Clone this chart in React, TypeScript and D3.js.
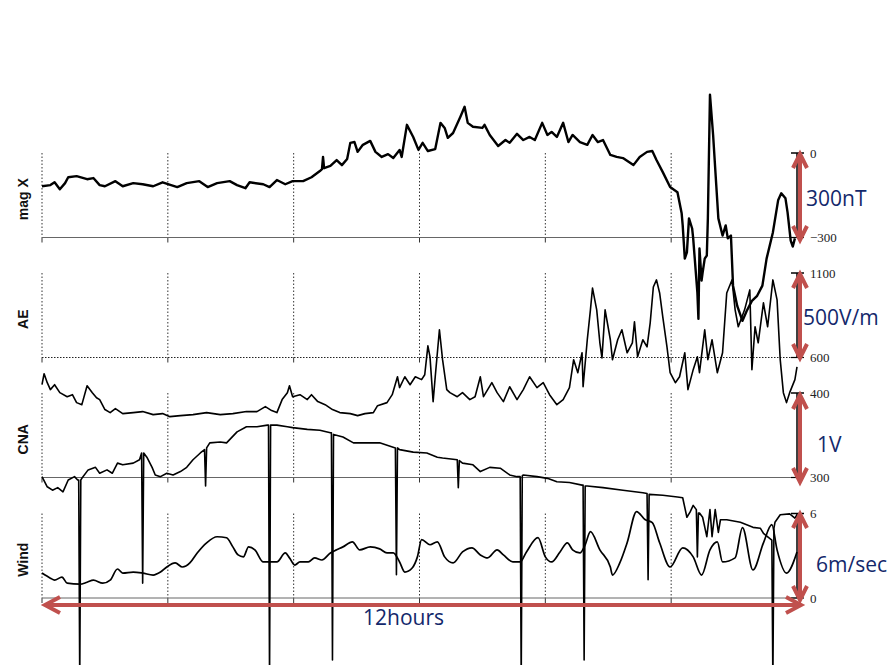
import React from 'react';
import * as d3 from 'd3';

// ---------- labels ----------
const panelNames = ['mag X', 'AE', 'CNA', 'Wind'];
const panelDomains: [number, number][] = [[-300, 0], [600, 1100], [300, 400], [0, 6]];
const tickLabels: [string, string][] = [['0', '\u2212300'], ['1100', '600'], ['400', '300'], ['6', '0']];
const unitLabels = ['300nT', '500V/m', '1V', '6m/sec'];
const gridHours = [0, 2, 4, 6, 8, 10];
const spanLabel = '12hours';

// ---------- data: [minutes from start, value] ----------
const magX: [number, number][] = [
  [0, -118], [8, -114], [12, -104], [17, -129], [22, -107], [25, -86], [33, -82], [43, -93], [49, -89],
  [55, -114], [60, -118], [70, -100], [77, -118], [87, -107], [96, -111], [106, -118], [115, -104],
  [129, -121], [138, -107], [150, -100], [158, -121], [167, -107], [179, -100], [186, -114], [194, -125],
  [198, -104], [211, -111], [217, -121], [224, -96], [232, -111], [239, -100], [249, -100], [257, -86],
  [265, -64], [267, -57], [268, -14], [269, -54], [275, -46], [281, -25], [286, -43], [291, -21],
  [294, 36], [298, 39], [301, 4], [306, 29], [313, 43], [318, 4], [324, -14], [330, -4], [335, -18],
  [341, 11], [343, -14], [348, 100], [354, 57], [359, 11], [363, 36], [368, 7], [375, 14], [380, 107],
  [384, 89], [387, 54], [392, 71], [399, 129], [403, 164], [406, 107], [411, 93], [420, 89], [422, 100],
  [427, 64], [435, 25], [442, 46], [446, 36], [453, 68], [459, 46], [465, 57], [470, 46], [477, 107],
  [482, 64], [486, 75], [491, 57], [497, 107], [502, 39], [506, 64], [513, 39], [520, 29], [525, 64],
  [530, 39], [535, 46], [542, -7], [548, -14], [554, -18], [564, -43], [570, -14], [577, 4], [582, 7],
  [586, -25], [592, -68], [599, -121], [606, -139], [610, -214], [611, -257], [613, -375], [615, -353],
  [617, -232], [620, -268], [621, -303], [625, -496], [626, -589], [627, -339], [629, -453], [630, -425],
  [632, -375], [634, -364], [635, -232], [637, 207], [640, 64], [643, -114], [645, -232], [649, -293],
  [652, -257], [654, -303], [657, -293], [659, -471], [663, -543], [668, -596], [672, -561], [677, -525],
  [682, -507], [687, -471], [691, -375], [697, -282], [702, -168], [705, -143], [709, -161], [711, -211],
  [714, -311], [716, -332], [718, -303],
];

const ae: [number, number][] = [
  [0, 439], [2, 504], [5, 451], [8, 410], [12, 439], [17, 392], [24, 368], [29, 380], [33, 333], [38, 321],
  [43, 433], [48, 392], [52, 362], [55, 351], [60, 292], [65, 274], [70, 298], [77, 268], [87, 274],
  [96, 280], [106, 262], [115, 268], [122, 250], [132, 256], [144, 262], [157, 274], [170, 262],
  [182, 268], [195, 280], [205, 280], [213, 309], [219, 286], [224, 274], [229, 351], [234, 392],
  [236, 433], [239, 368], [246, 380], [253, 351], [257, 380], [263, 339], [270, 321], [277, 292],
  [284, 274], [294, 268], [301, 256], [308, 268], [316, 274], [320, 315], [329, 333], [334, 380],
  [339, 486], [341, 422], [346, 486], [351, 439], [356, 486], [362, 469], [365, 498], [368, 669],
  [370, 604], [373, 339], [375, 486], [379, 764], [382, 587], [386, 410], [389, 392], [396, 368],
  [401, 392], [408, 351], [413, 368], [418, 486], [421, 368], [429, 451], [434, 392], [440, 339],
  [446, 427], [453, 351], [459, 410], [465, 486], [472, 422], [478, 451], [484, 380], [491, 321],
  [497, 351], [503, 422], [507, 587], [511, 510], [515, 628], [516, 427], [520, 705], [523, 882],
  [525, 1011], [529, 882], [532, 687], [534, 598], [537, 882], [542, 705], [544, 587], [549, 705],
  [553, 764], [558, 628], [563, 687], [565, 811], [568, 604], [573, 705], [577, 663], [580, 805],
  [583, 1017], [586, 1059], [589, 982], [592, 840], [596, 663], [599, 510], [604, 451], [608, 486],
  [613, 628], [616, 410], [621, 528], [625, 604], [627, 510], [632, 764], [635, 587], [639, 705],
  [644, 510], [649, 628], [653, 982], [658, 1059], [661, 882], [664, 782], [670, 882], [675, 1000],
  [677, 528], [680, 782], [683, 687], [688, 923], [692, 782], [697, 1059], [701, 941], [704, 587],
  [707, 392], [710, 333], [713, 392], [718, 469], [720, 545],
];

const cna: [number, number][] = [
  [0, 301], [5, 289], [10, 285], [15, 288], [20, 283], [25, 297], [31, 301], [34, 297], [35, 297],
  [36, 60], [37, 297], [38, 299], [44, 309], [51, 312], [55, 305], [62, 309], [67, 305], [72, 317],
  [77, 315], [87, 317], [93, 321], [95, 329], [96, 175], [97, 329], [100, 324], [105, 312], [108, 303],
  [113, 301], [119, 305], [125, 303], [132, 307], [138, 312], [144, 321], [151, 329], [155, 333],
  [156, 290], [157, 335], [160, 341], [170, 342], [176, 341], [186, 354], [195, 360], [205, 360],
  [215, 362], [216, 362], [217, 60], [218, 362], [224, 362], [234, 360], [239, 359], [253, 357],
  [265, 356], [275, 353], [276, 353], [277, 84], [278, 351], [287, 348], [297, 341], [310, 341],
  [322, 341], [332, 337], [337, 335], [338, 185], [339, 335], [341, 333], [354, 330], [367, 329],
  [377, 324], [382, 323], [396, 321], [397, 288], [398, 320], [401, 317], [411, 315], [418, 307],
  [427, 312], [437, 311], [446, 303], [453, 301], [456, 301], [457, 60], [458, 302], [459, 303],
  [472, 301], [482, 299], [491, 295], [503, 294], [515, 291], [516, 291], [517, 84], [518, 290],
  [520, 290], [535, 288], [554, 285], [573, 282], [577, 281], [578, 179], [579, 280], [592, 279],
  [606, 277], [611, 276], [615, 253], [618, 259], [621, 267], [624, 262], [625, 206], [626, 258],
  [627, 258], [630, 253], [634, 230], [637, 262], [639, 230], [642, 262], [645, 235], [647, 250],
  [653, 250], [666, 247], [678, 241], [685, 240], [688, 234], [696, 226], [697, 60], [698, 240],
  [699, 247], [704, 256], [713, 257], [718, 252], [720, 256],
];

const wind: [number, number][] = [
  [0, 1.77], [8, 1.41], [12, 1.27], [19, 1.48], [24, 1.05], [36, 0.98], [43, 1.12], [49, 1.27],
  [58, 1.05], [65, 1.27], [72, 2.06], [77, 1.77], [87, 1.84], [96, 1.77], [106, 1.63], [113, 1.84],
  [119, 2.2], [127, 2.49], [134, 2.2], [141, 2.49], [148, 3.2], [157, 3.92], [167, 4.35], [176, 4.28],
  [182, 3.63], [187, 3.06], [192, 2.92], [197, 3.63], [203, 3.42], [211, 2.56], [224, 2.56], [232, 3.2],
  [236, 2.85], [241, 2.34], [246, 2.56], [254, 2.56], [260, 2.85], [267, 2.7], [275, 3.2], [281, 3.42],
  [287, 3.63], [296, 3.99], [303, 3.42], [313, 3.63], [322, 3.49], [329, 3.2], [335, 3.2], [341, 2.56],
  [346, 1.84], [353, 2.13], [358, 2.92], [362, 4.14], [370, 3.78], [377, 3.99], [384, 2.92], [392, 2.49],
  [401, 3.27], [410, 3.56], [418, 3.06], [425, 2.85], [434, 3.42], [440, 3.06], [449, 2.56], [456, 2.56],
  [462, 3.27], [473, 4.28], [480, 2.92], [486, 2.56], [494, 3.27], [501, 3.92], [506, 3.42], [513, 3.2],
  [518, 3.78], [523, 4.71], [532, 3.42], [542, 2.2], [544, 1.63], [551, 2.49], [558, 3.92], [567, 6.14],
  [575, 5.57], [582, 5.35], [589, 3.92], [599, 2.2], [611, 3.56], [621, 2.92], [629, 1.63], [637, 3.42],
  [644, 3.99], [649, 2.56], [661, 2.85], [668, 5.0], [678, 1.99], [688, 3.92], [696, 5.21], [701, 3.42],
  [710, 1.77], [720, 3.27],
];

const series = [magX, ae, cna, wind];
const strokeW = [2.4, 1.6, 1.6, 1.7];

// ---------- layout ----------
const W = 887;
const H = 665;
const x = d3.scaleLinear().domain([0, 720]).range([42, 797]);
const panelTop = [153, 273, 393, 513.5];
const panelH = 84.5;
const RED = '#c0504d';
const NAVY = '#13286b';

export default function App() {
  const ys = panelDomains.map((dom, i) =>
    d3.scaleLinear().domain(dom).range([panelTop[i] + panelH, panelTop[i]])
  );
  const x0 = x(0);
  const x1 = x(720);

  const vArrow = (ax: number, a: number, b: number) =>
    `M${ax},${a} L${ax},${b} M${ax - 7},${a + 14} L${ax},${a} L${ax + 7},${a + 14} M${ax - 7},${b - 14} L${ax},${b} L${ax + 7},${b - 14}`;
  const hy = 605;
  const ha = 45;
  const hb = 801;
  const hArrow = `M${ha},${hy} L${hb},${hy} M${ha + 15},${hy - 8} L${ha},${hy} L${ha + 15},${hy + 8} M${hb - 15},${hy - 8} L${hb},${hy} L${hb - 15},${hy + 8}`;

  const arrowSpans: [number, number][] = [[154, 240], [274, 358], [395, 482], [514, 600]];
  const unitPos: [number, number][] = [[806, 206], [803, 325], [817, 452], [816, 572]];

  return (
    <div style={{ position: 'absolute', left: 0, top: 0 }}>
      <svg width={W} height={H} style={{ display: 'block', background: '#fff' }}>
        <rect x={0} y={0} width={W} height={H} fill="#fff" />
        {panelNames.map((name, i) => {
          const top = panelTop[i];
          const bot = top + panelH;
          return (
            <g key={name}>
              {gridHours.map((h) => (
                <g key={h}>
                  <line x1={x(h * 60)} x2={x(h * 60)} y1={top} y2={bot} stroke="#333" strokeWidth={1} strokeDasharray="1.5,2" />
                  <line x1={x(h * 60)} x2={x(h * 60)} y1={bot} y2={bot + 5} stroke="#333" strokeWidth={1} />
                </g>
              ))}
              <line
                x1={x0}
                x2={x1}
                y1={bot}
                y2={bot}
                stroke={i === 1 ? '#222' : '#666'}
                strokeWidth={1}
                strokeDasharray={i === 1 ? '1.5,1.5' : undefined}
              />
              <line x1={x1} x2={x1} y1={top} y2={bot} stroke="#000" strokeWidth={1.5} />
              <line x1={x1 - 6} x2={x1 + 7} y1={top} y2={top} stroke="#000" strokeWidth={1.5} />
              <line x1={x1 - 6} x2={x1 + 7} y1={bot} y2={bot} stroke="#000" strokeWidth={1.2} />
              <text
                x={810}
                y={top}
                dy="0.35em"
                fontFamily="'Liberation Serif', 'DejaVu Serif', serif"
                fontSize={13}
                fill="#222"
              >
                {tickLabels[i][0]}
              </text>
              <text
                x={810}
                y={bot}
                dy="0.35em"
                fontFamily="'Liberation Serif', 'DejaVu Serif', serif"
                fontSize={13}
                fill="#222"
              >
                {tickLabels[i][1]}
              </text>
              <text
                transform={`translate(28,${top + panelH / 2 + 4}) rotate(-90)`}
                textAnchor="middle"
                fontFamily="'Liberation Sans', Arial, sans-serif"
                fontWeight="bold"
                fontSize={14}
                fill="#111"
              >
                {name}
              </text>
            </g>
          );
        })}
        {series.map((s, i) => {
          const y = ys[i];
          const line = d3
            .line<[number, number]>()
            .x((d) => x(d[0]))
            .y((d) => y(d[1]))
            .curve(i === 3 ? d3.curveMonotoneX : d3.curveLinear);
          return (
            <path key={i} d={line(s) || ''} fill="none" stroke="#000" strokeWidth={strokeW[i]} strokeLinejoin="round" />
          );
        })}
        {arrowSpans.map((sp, i) => (
          <path key={i} d={vArrow(800, sp[0], sp[1])} fill="none" stroke={RED} strokeWidth={4} />
        ))}
        <path d={hArrow} fill="none" stroke={RED} strokeWidth={4} />
        {unitLabels.map((u, i) => (
          <text
            key={u}
            x={unitPos[i][0]}
            y={unitPos[i][1]}
            fontFamily="'Open Sans', 'Noto Sans', sans-serif"
            fontSize={21}
            fill={NAVY}
          >
            {u}
          </text>
        ))}
        <text x={363} y={625} fontFamily="'Open Sans', 'Noto Sans', sans-serif" fontSize={21} fill={NAVY}>
          {spanLabel}
        </text>
      </svg>
    </div>
  );
}
